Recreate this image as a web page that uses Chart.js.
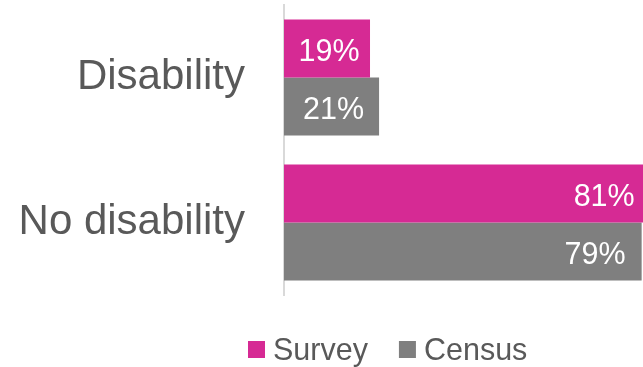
<!DOCTYPE html>
<html>
<head>
<meta charset="utf-8">
<script src="https://cdn.jsdelivr.net/npm/chart.js@4.4.0/dist/chart.umd.min.js"></script>
<style>
  html, body { margin: 0; padding: 0; background: #ffffff; }
  #wrap { width: 643px; height: 367px; position: relative; }
</style>
</head>
<body>
<div id="wrap"><canvas id="chart"></canvas></div>
<script>
const categories = ["Disability", "No disability"];
const seriesNames = ["Survey", "Census"];
const surveyPct = [19, 81];
const censusPct = [21, 79];

const COL_SURVEY = "#d62a94";
const COL_CENSUS = "#7f7f7f";
const TEXT_CLR = "#595959";
const FONT = "'Liberation Sans', Arial, sans-serif";

// value labels inside each bar
const barLabels = {
  id: "barLabels",
  afterDatasetsDraw(chart){
    const ctx = chart.ctx;
    ctx.save();
    ctx.font = `30.5px ${FONT}`;
    ctx.fillStyle = "#ffffff";
    ctx.textBaseline = "alphabetic";
    chart.data.datasets.forEach((ds, di) => {
      chart.getDatasetMeta(di).data.forEach((bar, i) => {
        const txt = `${ds.data[i]}%`;
        const w = bar.x - bar.base;
        if (w < 120){
          ctx.textAlign = "center";
          ctx.fillText(txt, (bar.x + bar.base) / 2 + 2, bar.y + 12.5);
        } else {
          ctx.textAlign = "right";
          ctx.fillText(txt, bar.x - 16, bar.y + 12.5);
        }
      });
    });
    ctx.restore();
  }
};

// legend under the plot: square swatch + name
const squareLegend = {
  id: "squareLegend",
  afterDraw(chart){
    const ctx = chart.ctx;
    ctx.save();
    ctx.font = `30.5px ${FONT}`;
    ctx.textAlign = "left";
    ctx.textBaseline = "alphabetic";
    let x = 248;
    const boxTop = 341, box = 17, baseline = 360;
    chart.data.datasets.forEach(ds => {
      ctx.fillStyle = ds.backgroundColor;
      ctx.fillRect(x, boxTop, box, box);
      ctx.fillStyle = TEXT_CLR;
      ctx.fillText(ds.label, x + box + 8, baseline);
      x += box + 8 + ctx.measureText(ds.label).width + 31;
    });
    ctx.restore();
  }
};

new Chart(document.getElementById("chart"), {
  type: "bar",
  data: {
    labels: categories,
    datasets: [
      { label: seriesNames[0], data: surveyPct, backgroundColor: COL_SURVEY },
      { label: seriesNames[1], data: censusPct, backgroundColor: COL_CENSUS }
    ]
  },
  options: {
    indexAxis: "y",
    responsive: true,
    maintainAspectRatio: false,
    animation: false,
    datasets: { bar: { categoryPercentage: 0.8, barPercentage: 1.0 } },
    layout: { padding: { top: 5, bottom: 72, left: 0, right: 0 } },
    scales: {
      x: { display: false, min: 0, max: 79.3 },
      y: {
        grid: { display: false, drawTicks: false },
        border: { display: true, color: "#d9d9d9", width: 2 },
        ticks: { color: TEXT_CLR, font: { family: FONT, size: 42 }, padding: 39 },
        afterFit(scale){
          scale.width = 284;
          // labels sit mid-band, no extra room needed above/below
          scale.paddingTop = 0;
          scale.paddingBottom = 0;
        }
      }
    },
    plugins: {
      legend: { display: false },
      tooltip: { enabled: false }
    }
  },
  plugins: [barLabels, squareLegend]
});
</script>
</body>
</html>
